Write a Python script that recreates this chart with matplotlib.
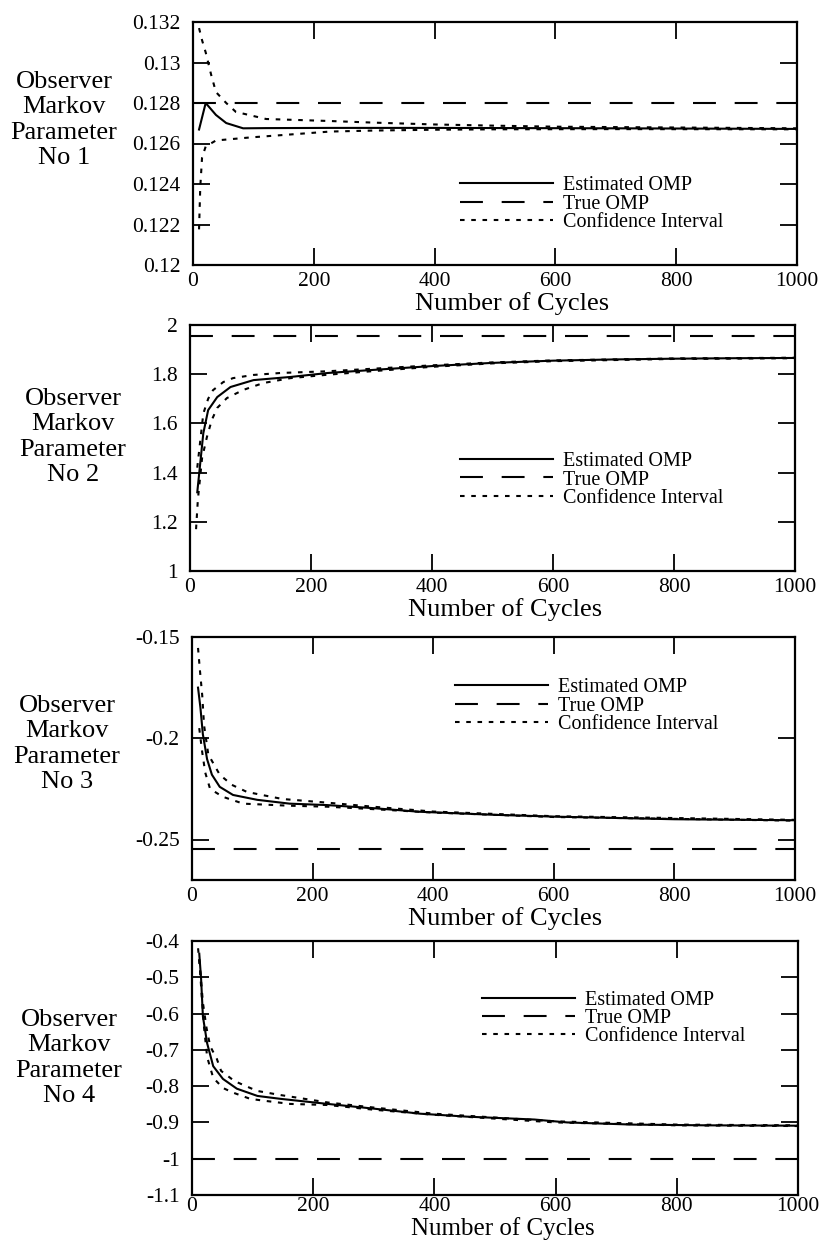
#!/usr/bin/env python3
"""Observer Markov parameter convergence, four stacked panels."""

import matplotlib

matplotlib.use("Agg")
import matplotlib.pyplot as plt
from matplotlib.ticker import FuncFormatter


# Values (cycles vs parameter value).
P1_EST_X = [10, 21, 38, 55, 83, 120, 227, 400, 700, 1000]
P1_EST_Y = [0.12669, 0.1280, 0.12741, 0.12701, 0.12675, 0.12676, 0.12677, 0.12677, 0.12675, 0.12672]
P1_UP_X = [10, 15, 21, 30, 38, 55, 71, 121, 227, 300, 400, 500, 600, 800, 1000]
P1_UP_Y = [0.1317, 0.1311, 0.1305, 0.1294, 0.12854, 0.1280, 0.12756, 0.12721, 0.12711, 0.12703,
           0.12694, 0.12688, 0.12683, 0.12679, 0.12675]
P1_LO_X = [10, 12, 15, 21, 38, 95, 227, 300, 400, 500, 700, 1000]
P1_LO_Y = [0.12176, 0.12383, 0.12531, 0.12585, 0.12615, 0.1263, 0.12659, 0.12664, 0.12668,
           0.12670, 0.12671, 0.12670]
P1_TRUE = 0.128

P2_EST_X = [12, 17, 22, 30, 45, 67, 105, 167, 228, 300, 400, 500, 600, 700, 800, 900, 1000]
P2_EST_Y = [1.32, 1.44, 1.56, 1.654, 1.707, 1.748, 1.776, 1.789, 1.805, 1.817, 1.833, 1.846,
            1.855, 1.86, 1.863, 1.865, 1.866]
P2_UP_X = [12, 17, 22, 30, 38, 55, 71, 105, 150, 228, 300, 400, 500, 600, 800, 1000]
P2_UP_Y = [1.42, 1.53, 1.64, 1.70, 1.735, 1.768, 1.784, 1.797, 1.805, 1.812, 1.822, 1.836,
           1.848, 1.856, 1.864, 1.867]
P2_LO_X = [10, 13, 20, 28, 36, 45, 61, 88, 121, 166, 228, 300, 400, 500, 600, 800, 1000]
P2_LO_Y = [1.17, 1.29, 1.46, 1.545, 1.614, 1.663, 1.703, 1.736, 1.764, 1.784, 1.798, 1.812,
           1.830, 1.844, 1.853, 1.862, 1.865]
P2_TRUE = 1.955

P3_EST_X = [10, 14, 18, 25, 33, 46, 68, 108, 162, 224, 300, 377, 500, 600, 800, 1000]
P3_EST_Y = [-0.175, -0.185, -0.198, -0.2103, -0.218, -0.224, -0.228, -0.2304, -0.2323, -0.2330,
            -0.2345, -0.2363, -0.2378, -0.2387, -0.2400, -0.2405]
P3_UP_X = [10, 13, 17, 20, 27, 46, 66, 91, 116, 150, 224, 300, 400, 600, 1000]
P3_UP_Y = [-0.1554, -0.166, -0.179, -0.1936, -0.208, -0.218, -0.223, -0.2265, -0.228, -0.230,
           -0.2318, -0.2338, -0.2362, -0.2385, -0.2403]
P3_LO_X = [12, 17, 22, 30, 51, 85, 160, 224, 300, 400, 600, 1000]
P3_LO_Y = [-0.195, -0.207, -0.217, -0.225, -0.2289, -0.2323, -0.2333, -0.2338, -0.2350, -0.2367,
           -0.2389, -0.2407]
P3_TRUE = -0.2545

P4_EST_X = [12, 15, 18, 25, 35, 51, 74, 108, 146, 224, 300, 377, 453, 565, 619, 728, 850, 1000]
P4_EST_Y = [-0.435, -0.504, -0.608, -0.682, -0.745, -0.78, -0.807, -0.827, -0.835, -0.849,
            -0.862, -0.876, -0.884, -0.892, -0.90, -0.906, -0.908, -0.909]
P4_UP_X = [10, 14, 18, 24, 30, 41, 48, 70, 107, 144, 224, 300, 400, 600, 800, 1000]
P4_UP_Y = [-0.42, -0.49, -0.57, -0.64, -0.69, -0.725, -0.758, -0.786, -0.813, -0.824, -0.845,
           -0.859, -0.876, -0.897, -0.906, -0.908]
P4_LO_X = [12, 16, 20, 25, 35, 51, 68, 96, 118, 162, 224, 300, 400, 600, 800, 1000]
P4_LO_Y = [-0.45, -0.55, -0.64, -0.72, -0.777, -0.805, -0.818, -0.835, -0.84, -0.849, -0.852,
           -0.865, -0.879, -0.90, -0.908, -0.91]
P4_TRUE = -1.0

X_TICKS = [0, 200, 400, 600, 800, 1000]
P1_YTICKS = [0.12, 0.122, 0.124, 0.126, 0.128, 0.13, 0.132]
P2_YTICKS = [1, 1.2, 1.4, 1.6, 1.8, 2]
P3_YTICKS = [-0.25, -0.2, -0.15]
P4_YTICKS = [-1.1, -1, -0.9, -0.8, -0.7, -0.6, -0.5, -0.4]

FIG_W, FIG_H = 822, 1247
FONT = "Liberation Serif"
LW = 1.5
TRUE_STYLE = (0, (11, 9))
CI_STYLE = (0, (2.2, 3.2))

# box: axes in px [left, top, right, bottom]; lab: y-label centre px;
# leg: legend anchor in axes coords
PANELS = [
    dict(est=(P1_EST_X, P1_EST_Y), up=(P1_UP_X, P1_UP_Y), lo=(P1_LO_X, P1_LO_Y), true=P1_TRUE,
         ylim=(0.12, 0.132), yticks=P1_YTICKS, box=(193, 22, 797, 265), lab=(64, 120),
         leg=(0.442, 0.251), xlab_x=0.528, xpad=1, xtpad=5, xlab_size=19, name="No 1"),
    dict(est=(P2_EST_X, P2_EST_Y), up=(P2_UP_X, P2_UP_Y), lo=(P2_LO_X, P2_LO_Y), true=P2_TRUE,
         ylim=(1.0, 2.0), yticks=P2_YTICKS, box=(190, 325, 795, 571), lab=(73, 437),
         leg=(0.447, 0.37), xlab_x=0.52, xpad=1, xtpad=5, xlab_size=19, name="No 2"),
    dict(est=(P3_EST_X, P3_EST_Y), up=(P3_UP_X, P3_UP_Y), lo=(P3_LO_X, P3_LO_Y), true=P3_TRUE,
         ylim=(-0.27, -0.1515), yticks=P3_YTICKS, box=(192, 637, 795, 880), lab=(67, 744),
         leg=(0.436, 0.716), xlab_x=0.52, xpad=1, xtpad=5, xlab_size=19, name="No 3"),
    dict(est=(P4_EST_X, P4_EST_Y), up=(P4_UP_X, P4_UP_Y), lo=(P4_LO_X, P4_LO_Y), true=P4_TRUE,
         ylim=(-1.1, -0.4), yticks=P4_YTICKS, box=(192, 941, 798, 1195), lab=(69, 1058),
         leg=(0.479, 0.695), xlab_x=0.513, xpad=0.5, xtpad=1.5, xlab_size=18, name="No 4"),
]


def style_axis(ax, ylim, yticks, xtpad):
    ax.set_xlim(0, 1000)
    ax.set_ylim(*ylim)
    ax.set_xticks(X_TICKS)
    ax.set_yticks(yticks)
    ax.yaxis.set_major_formatter(FuncFormatter(lambda v, _: f"{v:g}"))
    ax.tick_params(direction="in", length=12, width=1.3, top=True, right=True,
                   labelsize=15.5, colors="black")
    ax.tick_params(axis="y", pad=9)
    ax.tick_params(axis="x", pad=xtpad)
    for spine in ax.spines.values():
        spine.set_linewidth(1.6)


def main():
    plt.rcParams.update({"font.family": FONT, "axes.unicode_minus": False})
    fig = plt.figure(figsize=(FIG_W / 100, FIG_H / 100), dpi=100)

    for p in PANELS:
        left, top, right, bottom = p["box"]
        ax = fig.add_axes([left / FIG_W, 1 - bottom / FIG_H, (right - left) / FIG_W,
                           (bottom - top) / FIG_H])
        ax.plot(*p["est"], color="black", lw=LW, label="Estimated OMP")
        ax.axhline(p["true"], color="black", lw=LW, linestyle=TRUE_STYLE, label="True OMP")
        ax.plot(*p["up"], color="black", lw=LW, linestyle=CI_STYLE, label="Confidence Interval")
        ax.plot(*p["lo"], color="black", lw=LW, linestyle=CI_STYLE)
        style_axis(ax, p["ylim"], p["yticks"], p["xtpad"])

        ax.set_xlabel("Number of Cycles", fontsize=p["xlab_size"], x=p["xlab_x"],
                      labelpad=p["xpad"])
        fig.text(p["lab"][0] / FIG_W, 1 - p["lab"][1] / FIG_H,
                 "Observer\nMarkov\nParameter\n" + p["name"], ha="center", va="center",
                 fontsize=19, linespacing=1.2)

        ax.legend(loc="center left", bbox_to_anchor=p["leg"], frameon=False, fontsize=14.5,
                  handlelength=4.6, handletextpad=0.5, labelspacing=-0.05, borderpad=0,
                  borderaxespad=0)

    fig.savefig("out.png", dpi=100, facecolor="white")
    plt.close(fig)


if __name__ == "__main__":
    main()
